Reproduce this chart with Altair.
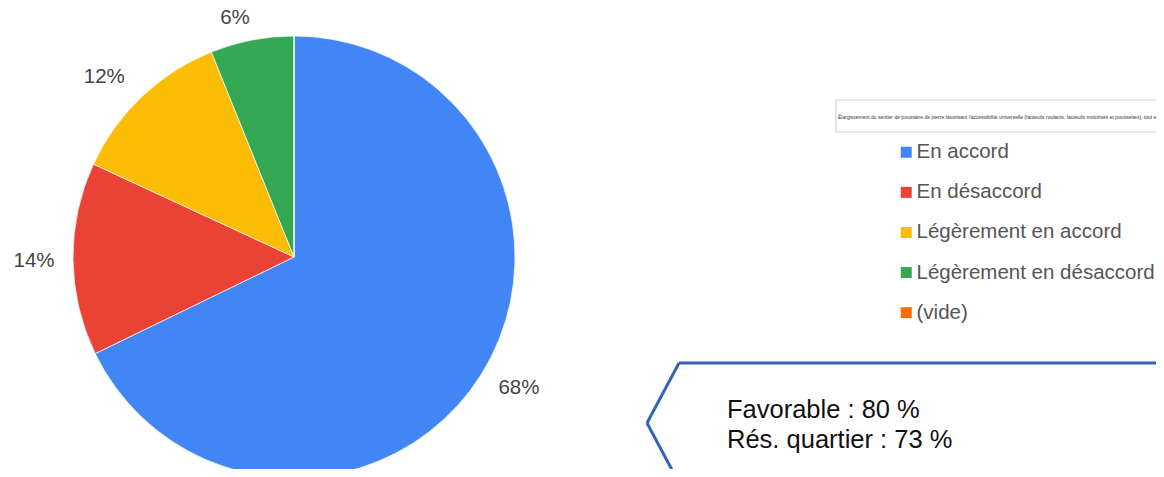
import altair as alt
import pandas as pd

categories = ["En accord", "En désaccord", "Légèrement en accord", "Légèrement en désaccord", "(vide)"]
values = [67.8, 14.1, 12.0, 6.1, 0.0]
colors = ["#4285F4", "#EA4335", "#FBBC04", "#34A853", "#FF6D01"]
legend_title = ("Élargissement du sentier de poussière de pierre favorisant l'accessibilité universelle "
                "(fauteuils roulants, fauteuils motorisés et poussettes), tout en assurant la protection des milieux naturels")
note_lines = ["Favorable : 80 %", "Rés. quartier : 73 %"]

df = pd.DataFrame({"cat": categories, "value": values, "idx": list(range(len(categories)))})

FONT = "Liberation Sans"
CX, CY, R = 286, 249, 221

base = alt.Chart(df)

pie = base.mark_arc(outerRadius=R, stroke="white", strokeWidth=0.7).encode(
    theta=alt.Theta("value:Q", stack=True),
    order=alt.Order("idx:Q"),
    color=alt.Color(
        "cat:N",
        scale=alt.Scale(domain=categories, range=colors),
        sort=categories,
        legend=alt.Legend(
            title=None, orient="none", legendX=888, legendY=134, padding=0,
            symbolType="square", symbolSize=121, symbolStrokeWidth=0,
            labelFontSize=20.5, labelFont=FONT, labelColor="#555555",
            rowPadding=19.1, labelOffset=0, labelLimit=400,
        ),
    ),
    x=alt.value(CX), y=alt.value(CY),
)

# label nudges (Google-style label placement), in pixels, per slice index
nudges = {0: (4.5, -6.5), 1: (0, 2), 2: (-10.5, 8), 3: (-9.5, 16.5)}

label_layers = []
for i, (ddx, ddy) in nudges.items():
    label_layers.append(
        base.transform_calculate(
            lab="format(datum.value/100, '.0%')",
            show=f"datum.idx == {i} && datum.value > 0 ? datum.lab : ''",
        ).mark_text(radius=260, fontSize=20.5, font=FONT, color="#444444", dx=ddx, dy=ddy).encode(
            theta=alt.Theta("value:Q", stack=True),
            order=alt.Order("idx:Q"),
            text=alt.Text("show:N"),
            x=alt.value(CX), y=alt.value(CY),
        )
    )

title_box = alt.Chart(pd.DataFrame({"t": [legend_title]})).mark_rect(
    fill="white", stroke="#d0d0d0", strokeWidth=1.2
).encode(x=alt.value(828), x2=alt.value(1175), y=alt.value(92), y2=alt.value(124))

title_txt = alt.Chart(pd.DataFrame({"t": [legend_title]})).mark_text(
    fontSize=5, font=FONT, color="#333333", align="left", baseline="middle"
).encode(text="t:N", x=alt.value(830), y=alt.value(109))

co = "#3164B8"
seg1 = alt.Chart(df.head(1)).mark_rule(color=co, strokeWidth=3).encode(
    x=alt.value(671), x2=alt.value(1175), y=alt.value(355), y2=alt.value(355))
seg2 = alt.Chart(df.head(1)).mark_rule(color=co, strokeWidth=3).encode(
    x=alt.value(671), x2=alt.value(639), y=alt.value(355), y2=alt.value(415))
seg3 = alt.Chart(df.head(1)).mark_rule(color=co, strokeWidth=3).encode(
    x=alt.value(639), x2=alt.value(671), y=alt.value(415), y2=alt.value(475))

note_df = pd.DataFrame({"t": note_lines, "i": [0, 1]})
note = alt.Chart(note_df).transform_calculate(py="410 + 29.5*datum.i").mark_text(
    fontSize=25.5, font=FONT, color="#111111", align="left", baseline="alphabetic"
).encode(text="t:N", x=alt.value(719), y=alt.Y("py:Q", scale=None))

chart = alt.layer(pie, *label_layers, title_box, title_txt, seg1, seg2, seg3, note).properties(
    width=1148, height=461, padding=0, autosize=alt.AutoSizeParams(type="none"),
).configure_view(stroke=None)

chart.save("out.html", embed_options={"renderer": "svg", "actions": False})
